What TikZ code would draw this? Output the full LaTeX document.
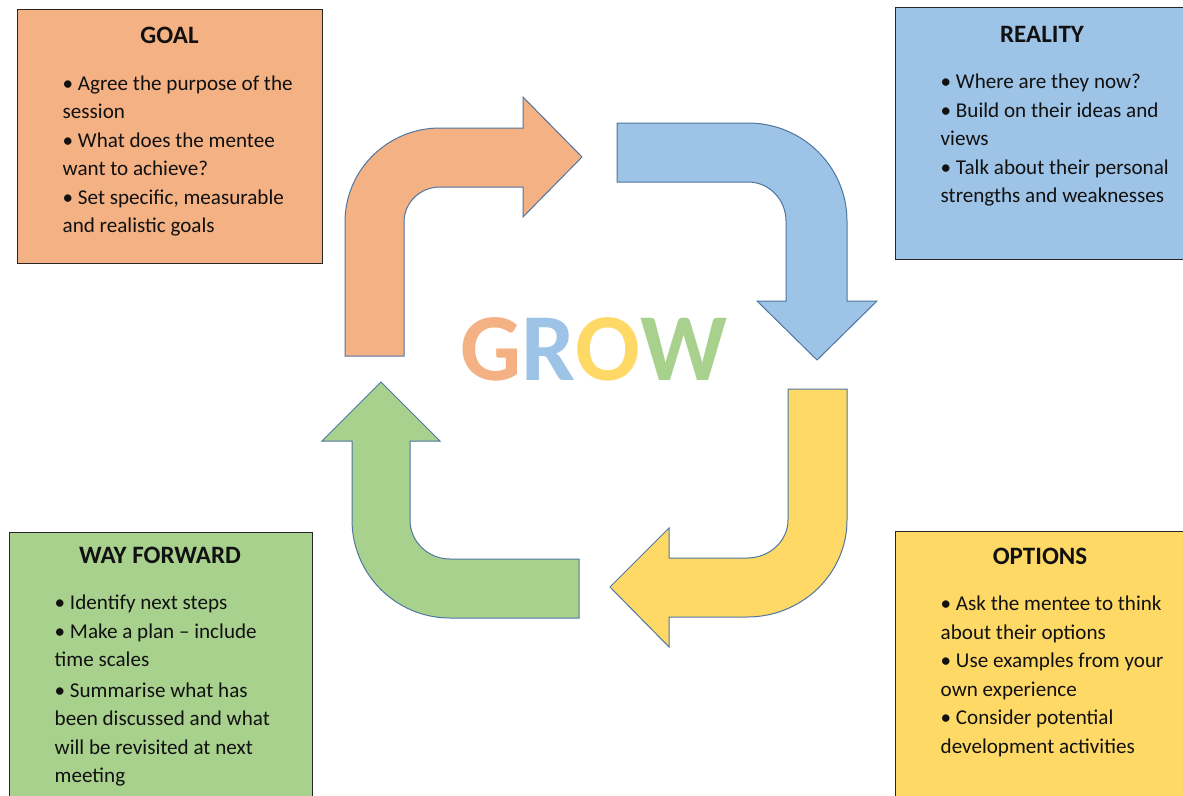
\documentclass[tikz,border=0pt]{standalone}
\usepackage{fontspec}
\setmainfont{Carlito}
\definecolor{goalfill}{HTML}{F4B183}
\definecolor{realfill}{HTML}{9DC3E6}
\definecolor{optfill}{HTML}{FFD966}
\definecolor{wayfill}{HTML}{A9D18E}
\definecolor{boxline}{HTML}{262626}
\definecolor{arrowline}{HTML}{4F76A0}
\definecolor{ink}{HTML}{111111}
\begin{document}
\begin{tikzpicture}[x=1pt,y=-1pt,
  box/.style={draw=boxline, line width=1.3pt, inner sep=0pt, anchor=north west},
  title/.style={font=\fontsize{25}{30}\selectfont\bfseries, text=ink, anchor=base, inner sep=0pt},
  body/.style={font=\fontsize{21.1}{28.5}\selectfont, text=ink, align=left, anchor=north west, inner sep=0pt},
  bentarrow/.style={draw=arrowline, line width=1pt, line join=miter}]
\useasboundingbox (0,0) rectangle (1183,795);

% four coloured boxes
\node[box, fill=goalfill, minimum width=305pt, minimum height=254pt] (goal) at (17,9) {};
\node[box, fill=realfill, minimum width=295pt, minimum height=252pt] (reality) at (895,7) {};
\node[box, fill=optfill, minimum width=295pt, minimum height=280pt] (options) at (895,531) {};
\node[box, fill=wayfill, minimum width=303pt, minimum height=280pt] (way) at (9,532) {};

% headings
\node[title] (goalT) at (169.5,43) {GOAL};
\node[title] (realT) at (1042,42) {REALITY};
\node[title] (optT) at (1040,564) {OPTIONS};
\node[title] (wayT) at (160,563) {WAY FORWARD};

% bullet texts
\node[body] (goalB) at (62.5,75.5) {• Agree the purpose of the\\session\\• What does the mentee\\want to achieve?\\• Set specific, measurable\\and realistic goals};
\node[body] (realB) at (940.5,74) {• Where are they now?\\• Build on their ideas and\\views\\• Talk about their personal\\strengths and weaknesses};
\node[body] (optB) at (940.5,596) {• Ask the mentee to think\\about their options\\• Use examples from your\\own experience\\• Consider potential\\development activities};
\node[body] (wayB) at (54.5,595) {• Identify next steps\\• Make a plan – include\\time scales\\[2pt]• Summarise what has\\been discussed and what\\will be revisited at next\\meeting};

% bent arrows of the cycle
\path[bentarrow, fill=goalfill] (345,356) -- (345,222)
  arc[start angle=180, end angle=270, x radius=95, y radius=94]
  -- (523,128) -- (523,97) -- (582,157) -- (523,217) -- (523,187) -- (440,187)
  arc[start angle=270, end angle=180, x radius=36, y radius=35]
  -- (404,356) -- cycle;
\path[bentarrow, fill=realfill] (617,123) -- (748,123)
  arc[start angle=270, end angle=360, x radius=99, y radius=98]
  -- (847,301) -- (877,301) -- (817,360) -- (757,301) -- (786,301) -- (786,221)
  arc[start angle=0, end angle=-90, x radius=38, y radius=39]
  -- (617,182) -- cycle;
\path[bentarrow, fill=optfill] (788,389) -- (847,389) -- (847,520)
  arc[start angle=0, end angle=90, x radius=100, y radius=97]
  -- (669,617) -- (669,647) -- (610,587) -- (669,528) -- (669,558) -- (747,558)
  arc[start angle=90, end angle=0, x radius=41, y radius=38]
  -- cycle;
\path[bentarrow, fill=wayfill] (579,559) -- (579,618) -- (450,618)
  arc[start angle=90, end angle=180, x radius=98, y radius=98]
  -- (352,441) -- (322,441) -- (381,382) -- (440,441) -- (410,441) -- (410,520)
  arc[start angle=180, end angle=90, x radius=40, y radius=39]
  -- cycle;

% centre word
\node[font=\fontsize{96}{100}\selectfont\bfseries, anchor=base, inner sep=0pt] (grow) at (594,380)
  {\textcolor{goalfill}{G}\textcolor{realfill}{R}\textcolor{optfill}{O}\textcolor{wayfill}{W}};
\end{tikzpicture}
\end{document}
